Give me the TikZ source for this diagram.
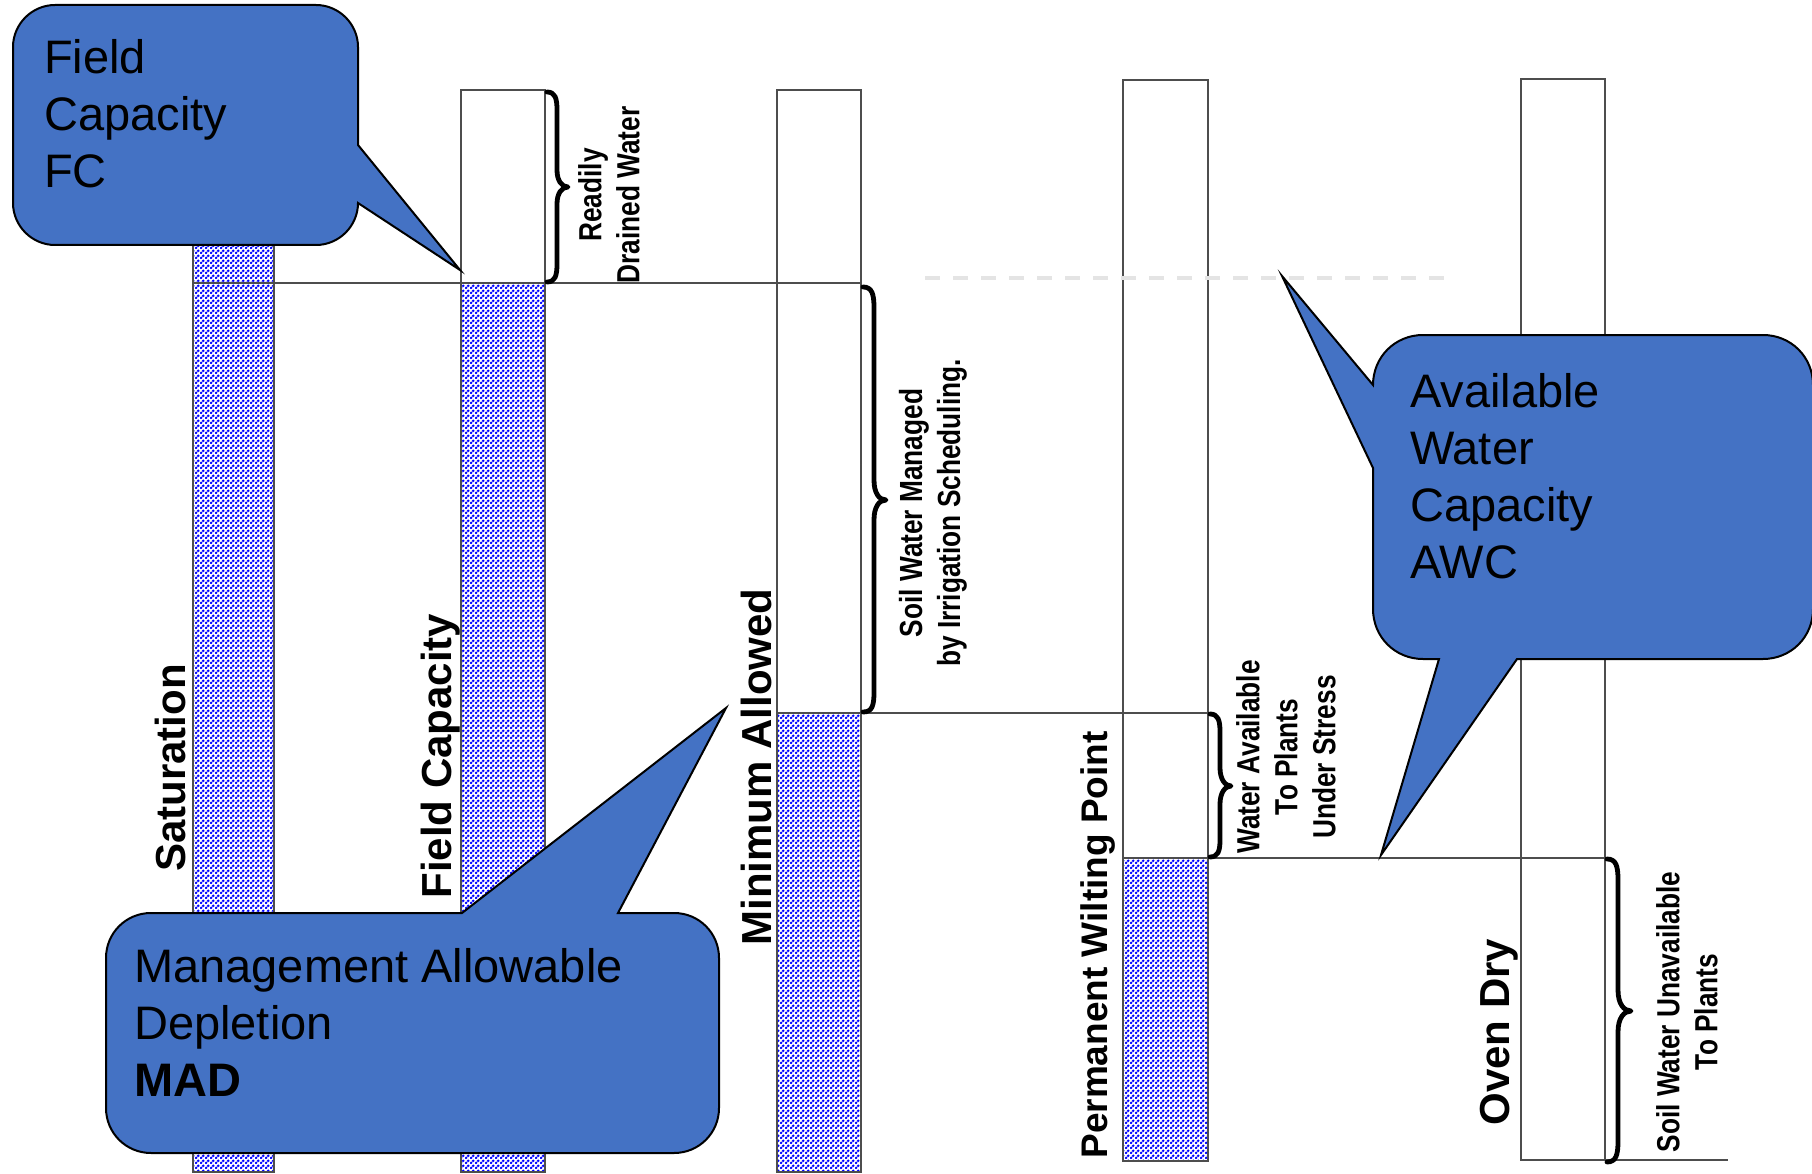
\documentclass[tikz,border=0pt]{standalone}
\usepackage{fontspec}
\setmainfont{Liberation Sans}
\newfontfamily\narrowfont{Liberation Sans}[FakeStretch=0.82, UprightFont={* Bold}, BoldFont={* Bold}]
\usetikzlibrary{patterns}
\pgfdeclarepatternformonly{bluedots}{\pgfpointorigin}{\pgfpoint{5pt}{5pt}}{\pgfpoint{5pt}{5pt}}{%
  \pgfpathcircle{\pgfpoint{1.25pt}{1.25pt}}{1.75pt}%
  \pgfpathcircle{\pgfpoint{3.75pt}{3.75pt}}{1.75pt}%
  \pgfusepath{fill}}
\definecolor{callblue}{HTML}{4472C4}
\definecolor{dashgray}{HTML}{E4E4E4}
\definecolor{linegray}{HTML}{4D4D4D}
\definecolor{dotblue}{HTML}{0000FF}
\tikzset{
  colwhite/.style={draw=linegray, line width=1.3pt, fill=white},
  colwet/.style={draw=linegray, line width=1.3pt, pattern=bluedots, pattern color=dotblue},
  levelline/.style={draw=linegray, line width=1.3pt},
  bigbrace/.style={draw=black, line width=4.8pt, line cap=round, line join=round},
  collabel/.style={rotate=90, anchor=base, inner sep=0pt, font=\fontsize{42}{50}\selectfont\bfseries},
  smalllabel/.style={rotate=90, align=center, inner sep=0pt, font=\narrowfont\fontsize{32}{38}\selectfont},
  callout/.style={fill=callblue, draw=black, line width=2pt},
  calltext/.style={anchor=north west, align=left, inner sep=0pt, font=\fontsize{47}{57}\selectfont},
  awcdash/.style={draw=dashgray, line width=4.5pt, dash pattern=on 15pt off 13pt}
}
\begin{document}
\begin{tikzpicture}[x=1pt,y=-1pt]
\useasboundingbox (0,0) rectangle (1812,1174);

% columns
\path[colwet] (193,150) rectangle (274,1172);
\path[colwhite] (461,90) rectangle (545,283);
\path[colwet] (461,283) rectangle (545,1172);
\path[colwhite] (777,90) rectangle (861,713);
\path[colwet] (777,713) rectangle (861,1172);
\path[colwhite] (1123,80) rectangle (1208,858);
\path[colwet] (1123,858) rectangle (1208,1161);
\path[colwhite] (1521,79) rectangle (1605,1160);

% level lines
\coordinate (l1a) at (193,283); \coordinate (l1b) at (861,283);
\coordinate (l2a) at (861,713); \coordinate (l2b) at (1208,713);
\coordinate (l3a) at (1208,858); \coordinate (l3b) at (1605,858);
\coordinate (l4a) at (1521,1160); \coordinate (l4b) at (1728,1160);
\draw[levelline] (l1a) -- (l1b);
\draw[levelline] (l2a) -- (l2b);
\draw[levelline] (l3a) -- (l3b);
\draw[levelline] (l4a) -- (l4b);

% braces
\coordinate (b1s) at (547,92);   \coordinate (b1e) at (547,282);
\coordinate (b2s) at (863,287);  \coordinate (b2e) at (863,712);
\coordinate (b3s) at (1210,714); \coordinate (b3e) at (1210,857);
\coordinate (b4s) at (1607,859); \coordinate (b4e) at (1607,1162);
\draw[bigbrace] (b1s) .. controls (555,92) and (557,98) .. (557,110) -- (557,170)
  .. controls (557,181) and (562,187) .. (568,187) .. controls (562,187) and (557,193) .. (557,204)
  -- (557,264) .. controls (557,276) and (555,282) .. (b1e);
\draw[bigbrace] (b2s) .. controls (872,287) and (874,294) .. (874,308) -- (874,480)
  .. controls (874,493) and (879,500) .. (886,500) .. controls (879,500) and (874,507) .. (874,520)
  -- (874,692) .. controls (874,706) and (872,712) .. (b2e);
\draw[bigbrace] (b3s) .. controls (1218,714) and (1220,720) .. (1220,732) -- (1220,768)
  .. controls (1220,779) and (1225,786) .. (1231,786) .. controls (1225,786) and (1220,793) .. (1220,804)
  -- (1220,840) .. controls (1220,851) and (1218,857) .. (b3e);
\draw[bigbrace] (b4s) .. controls (1616,859) and (1618,866) .. (1618,880) -- (1618,990)
  .. controls (1618,1004) and (1624,1011) .. (1631,1011) .. controls (1624,1011) and (1618,1018) .. (1618,1032)
  -- (1618,1141) .. controls (1618,1155) and (1616,1162) .. (b4e);

% column labels
\node[collabel] (sat) at (185,768) {Saturation};
\node[collabel] (fcl) at (451,756) {Field Capacity};
\node[collabel] (mal) at (771,767) {Minimum Allowed};
\node[collabel, font=\fontsize{37}{44}\selectfont\bfseries] (pwp) at (1107,945) {Permanent Wilting Point};
\node[collabel] (odl) at (1509,1032) {Oven Dry};

% brace labels
\node[smalllabel] (rdw) at (609,195) {Readily\\Drained Water};
\node[smalllabel] (swm) at (933,513) {Soil Water Managed\\by Irrigation Scheduling.};
\node[smalllabel] (wap) at (1286,757) {Water Available\\To Plants\\Under Stress};
\node[smalllabel] (swu) at (1687,1012) {Soil Water Unavailable\\To Plants};

% dashed level line
\coordinate (dl) at (925,278); \coordinate (dr) at (1447,278);
\draw[awcdash] (dl) -- (dr);

% Field Capacity callout
\path[callout] (13,47) .. controls (13,24) and (32,5) .. (55,5) -- (316,5)
  .. controls (339,5) and (358,24) .. (358,47) -- (358,145) -- (460,270) -- (358,203)
  .. controls (358,226) and (339,245) .. (316,245) -- (55,245)
  .. controls (32,245) and (13,226) .. (13,203) -- cycle;
\node[calltext] (fctext) at (44,39) {Field\\Capacity\\FC};

% MAD callout
\path[callout] (106,958) .. controls (106,933) and (126,913) .. (151,913) -- (462,913)
  -- (726,708) -- (618,913) -- (674,913)
  .. controls (699,913) and (719,933) .. (719,958) -- (719,1108)
  .. controls (719,1133) and (699,1153) .. (674,1153) -- (151,1153)
  .. controls (126,1153) and (106,1133) .. (106,1108) -- cycle;
\node[calltext] (madtext) at (134,948) {Management Allowable\\Depletion\\\textbf{MAD}};

% AWC callout
\path[callout] (1373,385) .. controls (1373,357) and (1395,335) .. (1423,335) -- (1763,335)
  .. controls (1791,335) and (1813,357) .. (1813,385) -- (1813,609)
  .. controls (1813,637) and (1791,659) .. (1763,659) -- (1517,659) -- (1381,855) -- (1439,659)
  -- (1423,659) .. controls (1395,659) and (1373,637) .. (1373,609) -- (1373,468)
  -- (1282,276) -- cycle;
\node[calltext] (awctext) at (1410,373) {Available\\Water\\Capacity\\AWC};
\end{tikzpicture}
\end{document}
